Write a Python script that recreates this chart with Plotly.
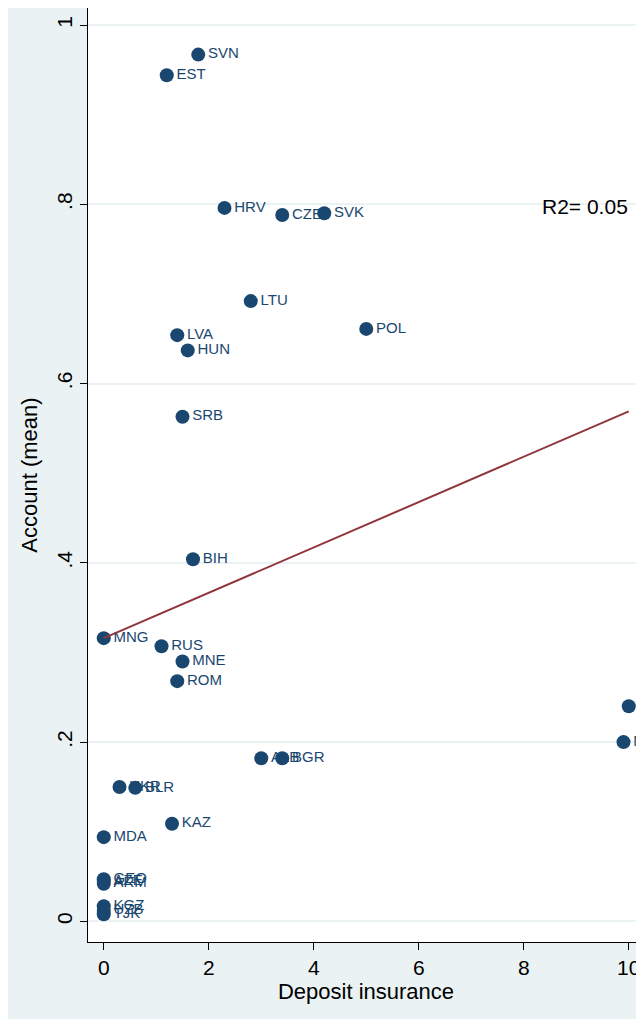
import plotly.graph_objects as go

countries = ["SVN","EST","HRV","CZE","SVK","LTU","LVA","HUN","POL","SRB","BIH","MNG","RUS","MNE","ROM",
             "TUR","MKD","ALB","BGR","UKR","BLR","KAZ","MDA","GEO","AZE","ARM","KGZ","UZB","TJK"]
deposit = [1.8,1.2,2.3,3.4,4.2,2.8,1.4,1.6,5.0,1.5,1.7,0.0,1.1,1.5,1.4,
           10.0,9.9,3.0,3.4,0.3,0.6,1.3,0.0,0.0,0.0,0.0,0.0,0.0,0.0]
account = [0.967,0.944,0.796,0.788,0.790,0.692,0.654,0.637,0.661,0.563,0.404,0.316,0.307,0.290,0.268,
           0.240,0.200,0.182,0.182,0.150,0.149,0.109,0.094,0.047,0.045,0.042,0.017,0.012,0.008]
fit_x = [0.0, 10.0]
fit_y = [0.316, 0.569]

navy = "#1a476f"
fig = go.Figure()
fig.add_trace(go.Scatter(x=deposit, y=account, mode="markers+text", text=countries,
                         textposition="middle right",
                         textfont=dict(color=navy, size=15, family="Liberation Sans"),
                         marker=dict(color=navy, size=14), cliponaxis=False))
fig.add_trace(go.Scatter(x=fit_x, y=fit_y, mode="lines", line=dict(color="#90353b", width=2)))
fig.add_annotation(x=9.17, y=0.797, text="R2= 0.05", showarrow=False,
                   font=dict(size=21, color="black", family="Liberation Sans"))
fig.update_layout(width=636, height=1011, showlegend=False,
                  paper_bgcolor="#eaf2f3", plot_bgcolor="white",
                  margin=dict(l=80, r=0, t=0, b=77, autoexpand=False),
                  font=dict(family="Liberation Sans", color="black"))
fig.update_xaxes(range=[-0.30, 10.29], tickvals=[0,2,4,6,8,10], showgrid=False, zeroline=False,
                 automargin=False,
                 showline=True, linecolor="black", ticks="outside", ticklen=7, tickcolor="black",
                 tickfont=dict(size=21), title=dict(text="Deposit insurance", font=dict(size=22), standoff=2))
fig.update_yaxes(range=[-0.023, 1.019], tickvals=[0,0.2,0.4,0.6,0.8,1.0],
                 ticktext=["0",".2",".4",".6",".8","1"], tickangle=-90, automargin=False,
                 showgrid=True, gridcolor="#eaf2f3", gridwidth=1.5, zeroline=False,
                 showline=True, linecolor="black", ticks="outside", ticklen=7, tickcolor="black",
                 tickfont=dict(size=21), title=dict(text="Account (mean)", font=dict(size=22), standoff=8))
fig.write_html("out.html")
